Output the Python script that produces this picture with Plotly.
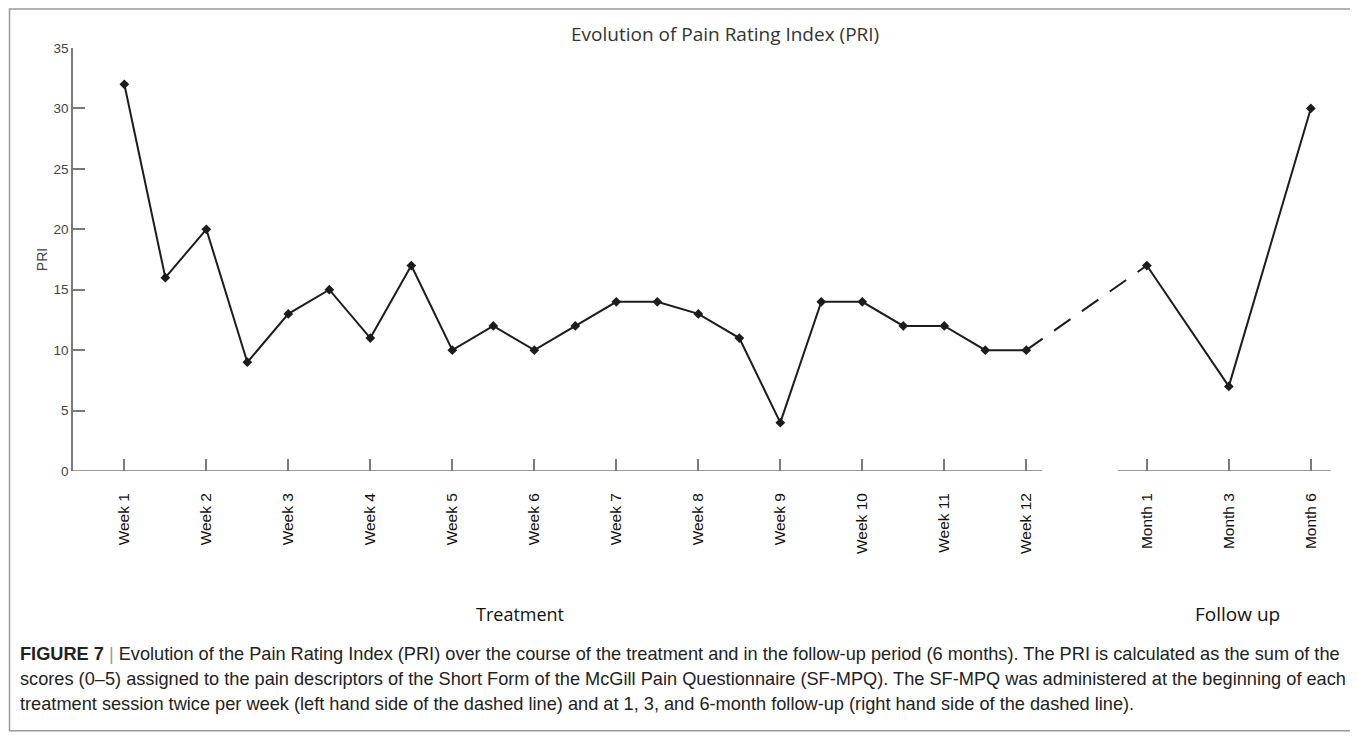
import plotly.graph_objects as go

# ---------------- data ----------------
week_labels = ["Week 1", "Week 2", "Week 3", "Week 4", "Week 5", "Week 6",
               "Week 7", "Week 8", "Week 9", "Week 10", "Week 11", "Week 12"]
# two sessions per week (23 recorded sessions)
treatment_pri = [32, 16, 20, 9, 13, 15, 11, 17, 10, 12, 10, 12,
                 14, 14, 13, 11, 4, 14, 14, 12, 12, 10, 10]
followup_labels = ["Month 1", "Month 3", "Month 6"]
followup_pri = [17, 7, 30]

title_text = "Evolution of Pain Rating Index (PRI)"
y_title = "PRI"
y_ticks = [0, 5, 10, 15, 20, 25, 30, 35]
caption_lines = [
    "<b>FIGURE 7</b> <span style='color:#999'>|</span> Evolution of the Pain Rating Index (PRI) over the course of the treatment and in the follow-up period (6 months). The PRI is calculated as the sum of the",
    "scores (0–5) assigned to the pain descriptors of the Short Form of the McGill Pain Questionnaire (SF-MPQ). The SF-MPQ was administered at the beginning of each",
    "treatment session twice per week (left hand side of the dashed line) and at 1, 3, and 6-month follow-up (right hand side of the dashed line).",
]

# ---------------- layout geometry ----------------
OFF = 8  # page body margin
W, H = 1358 - OFF, 746 - OFF
L = 73 - OFF
R = 1358 - 1331
T = 47.5 - OFF
B = 746 - 471
PW, PH = W - L - R, H - T - B

def px_x(p):
    return (p - OFF - L) / PW

def px_y(p):
    return (H - B - (p - OFF)) / PH

tx = [1 + 0.5 * i for i in range(len(treatment_pri))]
wx = list(range(1, len(week_labels) + 1))
FOLLOW_START = 13.47
fx = [FOLLOW_START + j for j in range(len(followup_pri))]

XMIN, XMAX = 0.374, 15.716

LINE = "#1c1c1c"
AX = "#7a7a7a"

fig = go.Figure()
fig.add_trace(go.Scatter(
    x=tx, y=treatment_pri, mode="lines+markers",
    line=dict(color=LINE, width=2),
    marker=dict(symbol="diamond", size=7.5, color=LINE),
    showlegend=False, hoverinfo="x+y"))
fig.add_trace(go.Scatter(
    x=[tx[-1], fx[0]], y=[treatment_pri[-1], followup_pri[0]], mode="lines",
    line=dict(color=LINE, width=2, dash="20px,14px"),
    showlegend=False, hoverinfo="skip"))
fig.add_trace(go.Scatter(
    x=fx, y=followup_pri, mode="lines+markers",
    line=dict(color=LINE, width=2),
    marker=dict(symbol="diamond", size=7.5, color=LINE),
    showlegend=False, hoverinfo="x+y"))

fig.update_xaxes(
    range=[XMIN, XMAX], showgrid=False, zeroline=False, showline=False,
    tickmode="array", tickvals=wx + fx, ticktext=week_labels + followup_labels,
    ticks="inside", ticklen=12, tickwidth=1.5, tickcolor=AX,
    tickangle=-90, ticklabelstandoff=18,
    tickfont=dict(family="Liberation Sans, Arial", size=15.5, color="#111"),
)
fig.update_yaxes(
    range=[0, 35], showgrid=False, zeroline=False,
    showline=True, linecolor=AX, linewidth=1.5,
    tickmode="array", tickvals=y_ticks,
    ticks="inside", ticklen=12, tickwidth=1.5, tickcolor=AX,
    tickfont=dict(family="Liberation Sans, Arial", size=13.5, color="#444"),
    title=dict(text=y_title, font=dict(family="Liberation Sans, Arial", size=14, color="#444"),
               standoff=3),
)

shapes = [
    dict(type="line", xref="paper", yref="y", x0=0, x1=px_x(1042), y0=0, y1=0,
         line=dict(color=AX, width=1.5)),
    dict(type="line", xref="paper", yref="y", x0=px_x(1118), x1=1, y0=0, y1=0,
         line=dict(color=AX, width=1.5)),
    dict(type="rect", xref="paper", yref="paper",
         x0=px_x(9.5), x1=px_x(1352), y0=px_y(731), y1=px_y(8.5),
         line=dict(color="#9a9a9a", width=1.5), fillcolor="rgba(0,0,0,0)", layer="below"),
]

annotations = [
    dict(text=title_text, xref="paper", yref="paper", x=px_x(725), y=px_y(33),
         showarrow=False, xanchor="center", yanchor="middle",
         font=dict(family="Open Sans", size=19, color="#333")),
    dict(text="Treatment", xref="paper", yref="paper", x=px_x(520), y=px_y(614),
         showarrow=False, xanchor="center", yanchor="middle",
         font=dict(family="Open Sans", size=18, color="#111")),
    dict(text="Follow up", xref="paper", yref="paper", x=px_x(1237), y=px_y(614),
         showarrow=False, xanchor="center", yanchor="middle",
         font=dict(family="Open Sans", size=19, color="#111")),
]
for i, line in enumerate(caption_lines):
    annotations.append(dict(
        text=line, xref="paper", yref="paper", x=px_x(18), y=px_y(654 + 25 * i),
        showarrow=False, xanchor="left", yanchor="middle",
        font=dict(family="Liberation Sans, Arial", size=18.2, color="#222")))

fig.update_layout(
    width=W, height=H, autosize=False,
    margin=dict(l=L, r=R, t=T, b=B, pad=0),
    paper_bgcolor="white", plot_bgcolor="white",
    shapes=shapes, annotations=annotations,
    showlegend=False,
)

fig.write_html("out.html", config={"displayModeBar": False})
